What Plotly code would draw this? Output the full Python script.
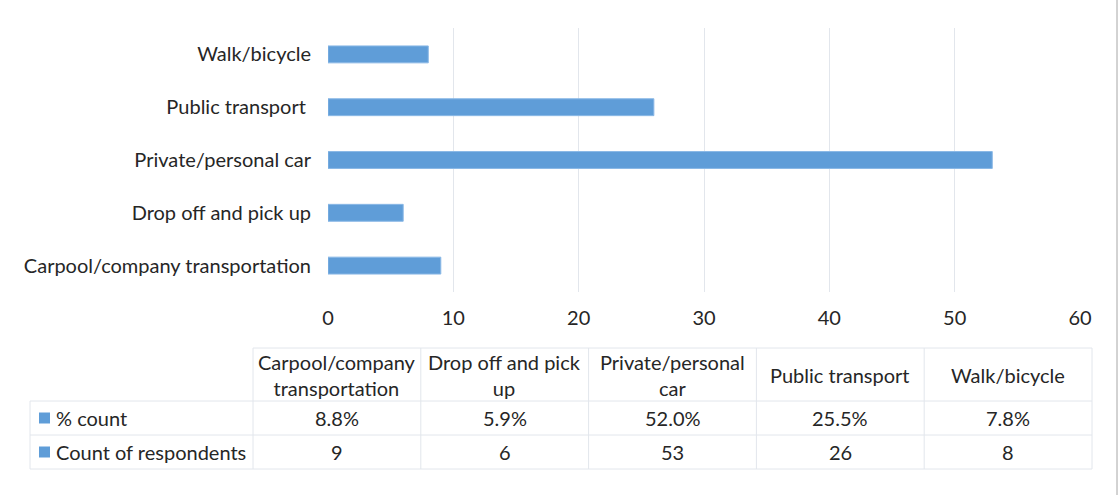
import plotly.graph_objects as go

# Survey: main mode of transport to work
categories = ["Carpool/company transportation", "Drop off and pick up",
              "Private/personal car", "Public transport", "Walk/bicycle"]
axis_labels = ["Carpool/company transportation", "Drop off and pick up",
               "Private/personal car", "Public transport\u00a0", "Walk/bicycle"]
header_labels = ["Carpool/company<br>transportation", "Drop off and pick<br>up",
                 "Private/personal<br>car", "Public transport", "Walk/bicycle"]
respondents = [9, 6, 53, 26, 8]
pct_count = [8.8, 5.9, 52.0, 25.5, 7.8]
row_names = ["% count", "Count of respondents"]
x_ticks = [0, 10, 20, 30, 40, 50, 60]

W, H = 1118, 495
FONT = "Lato"
FS = 20
BAR = "#5f9dd8"
GRID = "#e2e6ec"
TEXT = "#262626"


def px(x):
    return x / W


def py(y):
    return 1 - y / H


fig = go.Figure()
fig.add_trace(go.Bar(
    y=categories, x=respondents, orientation="h",
    marker=dict(color=BAR, line=dict(color="#8ab8e6", width=1)),
    width=0.32, showlegend=False, hoverinfo="x+y",
))

shapes = []
annotations = []

# data table under the chart (pixel geometry)
tl, tc, tr = 30, 253, 1092
rows_y = [348, 401, 435, 469]
ncol = len(categories)
colw = (tr - tc) / ncol
col_edges = [tc + i * colw for i in range(ncol + 1)]


def line(x0, y0, x1, y1, color=GRID):
    shapes.append(dict(type="line", xref="paper", yref="paper",
                       x0=px(x0), y0=py(y0), x1=px(x1), y1=py(y1),
                       line=dict(color=color, width=1)))


line(tc, rows_y[0], tr, rows_y[0])
for y in rows_y[1:]:
    line(tl, y, tr, y)
line(tl, rows_y[1], tl, rows_y[3])
for x in col_edges:
    line(x, rows_y[0], x, rows_y[3])

for i, lab in enumerate(header_labels):
    annotations.append(dict(
        xref="paper", yref="paper", x=px(col_edges[i] + colw / 2),
        y=py((rows_y[0] + rows_y[1]) / 2), text=lab, showarrow=False,
        xanchor="center", yanchor="middle", align="center",
        font=dict(family=FONT, size=FS, color=TEXT)))

row_values = [[f"{v:.1f}%" for v in pct_count], [str(v) for v in respondents]]
for r, (name, vals) in enumerate(zip(row_names, row_values)):
    yc = (rows_y[r + 1] + rows_y[r + 2]) / 2
    shapes.append(dict(type="rect", xref="paper", yref="paper",
                       x0=px(39), x1=px(50), y0=py(yc - 5.5), y1=py(yc + 5.5),
                       fillcolor=BAR, line=dict(width=0)))
    annotations.append(dict(
        xref="paper", yref="paper", x=px(54), y=py(yc), text=name,
        showarrow=False, xanchor="left", yanchor="middle",
        font=dict(family=FONT, size=FS, color=TEXT)))
    for i, v in enumerate(vals):
        annotations.append(dict(
            xref="paper", yref="paper", x=px(col_edges[i] + colw / 2),
            y=py(yc), text=v, showarrow=False,
            xanchor="center", yanchor="middle",
            font=dict(family=FONT, size=FS, color=TEXT)))

# right edge of the chart frame
shapes.append(dict(type="line", xref="paper", yref="paper",
                   x0=px(1117), x1=px(1117), y0=0, y1=1,
                   line=dict(color="#a6a6a6", width=1)))

fig.update_layout(
    width=W, height=H,
    margin=dict(l=0, r=0, t=0, b=0, autoexpand=False),
    paper_bgcolor="white", plot_bgcolor="white",
    font=dict(family=FONT, size=FS, color=TEXT),
    xaxis=dict(domain=[px(328), px(1080)], range=[0, 60],
               tickvals=x_ticks, showgrid=True, gridcolor=GRID, gridwidth=1,
               zeroline=False, showline=False, ticks="", automargin=False,
               ticklabelstandoff=12, anchor="y", fixedrange=True),
    yaxis=dict(domain=[py(292), py(28)], categoryorder="array",
               categoryarray=categories, tickvals=categories,
               ticktext=axis_labels, showgrid=False, zeroline=False,
               showline=False, ticks="", ticklabelstandoff=16,
               automargin=False, fixedrange=True),
    shapes=shapes, annotations=annotations,
)

fig.write_html("out.html")
